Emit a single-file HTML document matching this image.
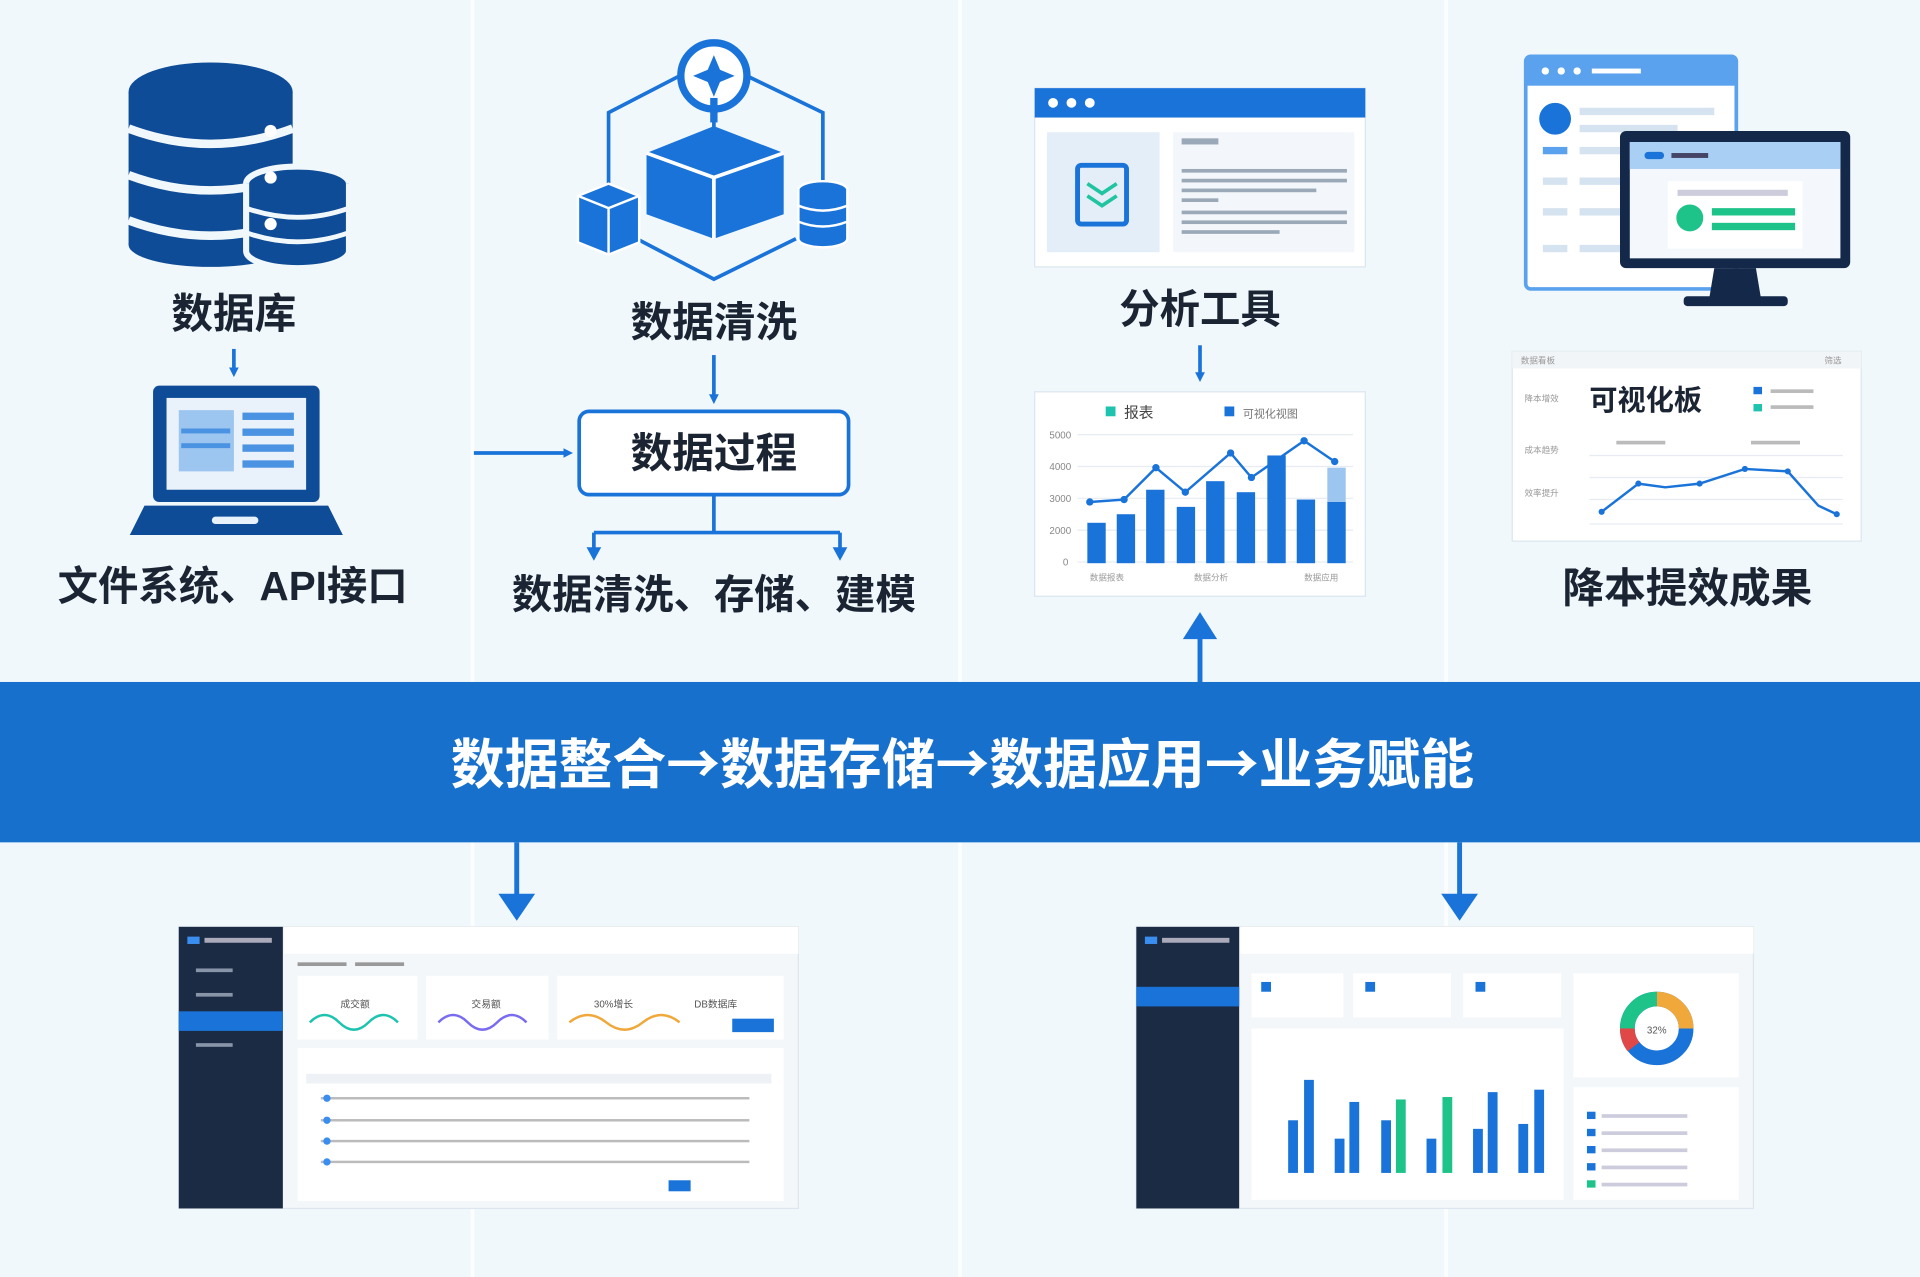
<!DOCTYPE html>
<html><head><meta charset="utf-8"><style>
html,body{margin:0;padding:0;background:#f1f8fb;}
svg{display:block}
text{font-family:"Liberation Sans","Noto Sans CJK SC",sans-serif;}
.band{font-family:"Noto Sans CJK SC",sans-serif;}
</style></head><body>
<svg width="1920" height="1277" viewBox="0 0 1568 1043" preserveAspectRatio="none" xmlns="http://www.w3.org/2000/svg">
<defs>
<marker id="ah" markerWidth="8" markerHeight="8" refX="4" refY="4" orient="auto" markerUnits="userSpaceOnUse" viewBox="0 0 8 8"><path d="M0,0 L8,4 L0,8z" fill="#1a73d9"/></marker>
</defs>
<rect width="1568" height="1043" fill="#f1f8fb"/>
<g stroke="#ffffff" stroke-width="3" opacity="0.8"><line x1="386" y1="0" x2="386" y2="1043"/><line x1="784" y1="0" x2="784" y2="1043"/><line x1="1181" y1="0" x2="1181" y2="1043"/></g>

<!-- Database -->
<g fill="#0f4c97">
<ellipse cx="172" cy="75" rx="67" ry="24"/>
<rect x="105" y="75" width="134" height="125"/>
<ellipse cx="172" cy="200" rx="67" ry="18"/>
</g>
<g stroke="#f1f8fb" stroke-width="7" fill="none"><path d="M105,105 Q172,130 239,105"/><path d="M105,143 Q172,168 239,143"/><path d="M105,180 Q172,205 239,180"/></g>
<g fill="#0f4c97" stroke="#f1f8fb" stroke-width="5"><ellipse cx="243" cy="150" rx="42" ry="14"/><path d="M201,150 v55 a42,14 0 0 0 84,0 v-55"/></g>
<g stroke="#f1f8fb" stroke-width="4" fill="none"><path d="M201,170 Q243,185 285,170"/><path d="M201,190 Q243,205 285,190"/></g>
<circle cx="221" cy="107" r="5" fill="#fff"/><circle cx="221" cy="145" r="5" fill="#fff"/><circle cx="221" cy="183" r="5" fill="#fff"/>
<text x="191" y="268" font-size="34" font-weight="bold" fill="#1b2433" text-anchor="middle">数据库</text>
<line x1="191" y1="285" x2="191" y2="304" stroke="#1a73d9" stroke-width="3" marker-end="url(#ah)"/>
<!-- Laptop -->
<rect x="125" y="315" width="136" height="95" rx="5" fill="#0f4c97"/>
<rect x="136" y="325" width="114" height="75" fill="#e9f2fb"/>
<rect x="146" y="335" width="45" height="50" fill="#9cc5ef"/>
<g fill="#4a92e2"><rect x="198" y="337" width="42" height="6"/><rect x="198" y="350" width="42" height="6"/><rect x="198" y="363" width="42" height="6"/><rect x="198" y="376" width="42" height="6"/><rect x="148" y="350" width="40" height="4"/><rect x="148" y="362" width="40" height="4"/></g>
<path d="M118,413 L268,413 L280,437 L106,437z" fill="#0f4c97"/>
<rect x="173" y="422" width="38" height="6" rx="3" fill="#e9f2fb"/>
<text x="190" y="490" font-size="33" font-weight="bold" fill="#1b2433" text-anchor="middle">文件系统、API接口</text>

<!-- Network icon -->
<g stroke="#1a73d9" stroke-width="3" fill="none"><path d="M555,62 L497,92 L497,160 M610,62 L672,92 L672,155 M520,195 L583,228 L650,195"/><line x1="583" y1="95" x2="583" y2="115"/></g>
<circle cx="583" cy="62" r="27" fill="#fff" stroke="#1a73d9" stroke-width="6"/>
<path d="M583,45 L588,57 L600,62 L588,67 L583,79 L578,67 L566,62 L578,57z" fill="#1a73d9"/>
<path d="M583,80 L583,100" stroke="#1a73d9" stroke-width="6"/>
<path d="M528,125 L583,103 L640,125 L640,175 L583,195 L528,175z" fill="#1a73d9"/>
<path d="M528,125 L583,145 L640,125 M583,145 L583,195" stroke="#fff" stroke-width="3" fill="none"/>
<path d="M472,160 L497,150 L522,160 L522,198 L497,208 L472,198z" fill="#1a73d9" stroke="#fff" stroke-width="2"/>
<path d="M472,160 L497,170 L522,160 M497,170 V208" stroke="#fff" stroke-width="2" fill="none"/>
<g fill="#1a73d9" stroke="#fff" stroke-width="2"><ellipse cx="672" cy="155" rx="20" ry="7"/><path d="M652,155 v40 a20,7 0 0 0 40,0 v-40"/></g>
<g stroke="#fff" stroke-width="2" fill="none"><path d="M652,168 Q672,176 692,168"/><path d="M652,181 Q672,189 692,181"/></g>
<text x="583" y="275" font-size="34" font-weight="bold" fill="#1b2433" text-anchor="middle">数据清洗</text>
<line x1="583" y1="290" x2="583" y2="326" stroke="#1a73d9" stroke-width="3" marker-end="url(#ah)"/>
<rect x="473" y="336" width="220" height="68" rx="8" fill="#fff" stroke="#1a73d9" stroke-width="3"/>
<text x="583" y="382" font-size="34" font-weight="bold" fill="#1b2433" text-anchor="middle">数据过程</text>
<line x1="387" y1="370" x2="464" y2="370" stroke="#1a73d9" stroke-width="3" marker-end="url(#ah)"/>
<path d="M583,404 V435 M485,435 H686 M485,435 V452 M686,435 V452" stroke="#1a73d9" stroke-width="3" fill="none"/>
<path d="M479,447 L485,458 L491,447z M680,447 L686,458 L692,447z" fill="#1a73d9"/>
<text x="583" y="497" font-size="33" font-weight="bold" fill="#1b2433" text-anchor="middle">数据清洗、存储、建模</text>

<!-- Analysis window -->
<rect x="845" y="72" width="270" height="146" fill="#fff" stroke="#dbe6f0"/>
<rect x="845" y="72" width="270" height="24" fill="#1a73d9"/>
<g fill="#fff"><circle cx="860" cy="84" r="4"/><circle cx="875" cy="84" r="4"/><circle cx="890" cy="84" r="4"/></g>
<rect x="855" y="108" width="92" height="98" fill="#e4eef8"/>
<rect x="880" y="135" width="40" height="48" rx="3" fill="none" stroke="#1a73d9" stroke-width="4"/>
<path d="M888,150 L900,158 L912,150 M888,160 L900,168 L912,160" stroke="#20c4a0" stroke-width="3" fill="none"/>
<rect x="958" y="108" width="148" height="98" fill="#f3f7fb"/>
<g fill="#9aa8b8"><rect x="965" y="113" width="30" height="5"/><rect x="965" y="138" width="135" height="3"/><rect x="965" y="146" width="135" height="3"/><rect x="965" y="154" width="110" height="3"/><rect x="965" y="162" width="30" height="3"/><rect x="965" y="172" width="135" height="3"/><rect x="965" y="180" width="135" height="3"/><rect x="965" y="188" width="80" height="3"/></g>
<text x="980" y="264" font-size="33" font-weight="bold" fill="#1b2433" text-anchor="middle">分析工具</text>
<line x1="980" y1="282" x2="980" y2="308" stroke="#1a73d9" stroke-width="3" marker-end="url(#ah)"/>
<!-- Chart panel -->
<rect x="845" y="320" width="270" height="167" fill="#fff" stroke="#dbe6f0"/>
<rect x="903" y="332" width="8" height="8" fill="#1ec3b0"/><text x="918" y="341" font-size="12" fill="#444">报表</text>
<rect x="1000" y="332" width="8" height="8" fill="#1a73d9"/><text x="1015" y="341" font-size="9" fill="#777">可视化视图</text>
<g stroke="#e6ecf2"><line x1="880" y1="355" x2="1105" y2="355"/><line x1="880" y1="381" x2="1105" y2="381"/><line x1="880" y1="407" x2="1105" y2="407"/><line x1="880" y1="433" x2="1105" y2="433"/><line x1="880" y1="459" x2="1105" y2="459"/></g>
<g font-size="8" fill="#888"><text x="857" y="358">5000</text><text x="857" y="384">4000</text><text x="857" y="410">3000</text><text x="857" y="436">2000</text><text x="868" y="462">0</text></g>
<g fill="#1a73d9"><rect x="888" y="427" width="15" height="33"/><rect x="912" y="420" width="15" height="40"/><rect x="936" y="400" width="15" height="60"/><rect x="961" y="414" width="15" height="46"/><rect x="985" y="393" width="15" height="67"/><rect x="1010" y="402" width="15" height="58"/><rect x="1035" y="372" width="15" height="88"/><rect x="1059" y="408" width="15" height="52"/><rect x="1084" y="410" width="15" height="50"/></g>
<rect x="1084" y="382" width="15" height="28" fill="#9cc5ef"/>
<polyline points="890,410 918,408 944,382 968,402 1005,370 1022,390 1065,360 1090,377" fill="none" stroke="#1a73d9" stroke-width="2"/>
<g fill="#1a73d9"><circle cx="890" cy="410" r="3"/><circle cx="918" cy="408" r="3"/><circle cx="944" cy="382" r="3"/><circle cx="968" cy="402" r="3"/><circle cx="1005" cy="370" r="3"/><circle cx="1022" cy="390" r="3"/><circle cx="1065" cy="360" r="3"/><circle cx="1090" cy="377" r="3"/></g>
<g font-size="7" fill="#999"><text x="890" y="474">数据报表</text><text x="975" y="474">数据分析</text><text x="1065" y="474">数据应用</text></g>
<line x1="980" y1="557" x2="980" y2="515" stroke="#1a73d9" stroke-width="4"/>
<path d="M966,522 L980,500 L994,522z" fill="#1a73d9"/>

<!-- Top right -->
<rect x="1246" y="46" width="172" height="190" rx="4" fill="#fff" stroke="#5ba2ee" stroke-width="3"/>
<rect x="1246" y="46" width="172" height="24" fill="#5ba2ee"/>
<g fill="#fff"><circle cx="1262" cy="58" r="3"/><circle cx="1275" cy="58" r="3"/><circle cx="1288" cy="58" r="3"/><rect x="1300" y="56" width="40" height="4"/></g>
<circle cx="1270" cy="97" r="13" fill="#1a73d9"/>
<g fill="#d5e2ef"><rect x="1290" y="88" width="110" height="6"/><rect x="1290" y="102" width="80" height="6"/><rect x="1260" y="120" width="20" height="6" fill="#5ba2ee"/><rect x="1290" y="120" width="40" height="6"/><rect x="1260" y="145" width="20" height="6"/><rect x="1290" y="145" width="40" height="6"/><rect x="1260" y="170" width="20" height="6"/><rect x="1290" y="170" width="40" height="6"/><rect x="1260" y="200" width="20" height="6"/><rect x="1290" y="200" width="40" height="6"/></g>
<rect x="1323" y="107" width="188" height="112" rx="5" fill="#14284a"/>
<rect x="1331" y="116" width="172" height="95" fill="#f4f8fc"/>
<rect x="1331" y="116" width="172" height="22" fill="#a9cff5"/>
<rect x="1343" y="124" width="16" height="6" rx="3" fill="#1a73d9"/>
<rect x="1365" y="125" width="30" height="4" fill="#446"/>
<rect x="1362" y="148" width="110" height="55" fill="#fff"/>
<rect x="1370" y="155" width="90" height="5" fill="#ccd"/>
<circle cx="1380" cy="178" r="11" fill="#1ec38a"/>
<rect x="1398" y="170" width="68" height="6" fill="#1ec38a"/><rect x="1398" y="182" width="68" height="6" fill="#1ec38a"/>
<path d="M1400,219 L1434,219 L1438,243 L1396,243z" fill="#14284a"/>
<rect x="1375" y="242" width="85" height="8" rx="3" fill="#14284a"/>
<!-- KPI board -->
<rect x="1235" y="287" width="285" height="155" fill="#fff" stroke="#dbe6f0"/>
<rect x="1235" y="287" width="285" height="14" fill="#f2f5f8"/>
<g fill="#999" font-size="7"><text x="1242" y="297">数据看板</text><text x="1490" y="297">筛选</text><text x="1245" y="328">降本增效</text><text x="1245" y="370">成本趋势</text><text x="1245" y="405">效率提升</text></g>
<text x="1298" y="335" font-size="23" font-weight="bold" fill="#1b2433">可视化板</text>
<rect x="1432" y="316" width="7" height="6" fill="#1a73d9"/><rect x="1432" y="330" width="7" height="6" fill="#1ec3b0"/>
<g fill="#bbb"><rect x="1446" y="318" width="35" height="3"/><rect x="1446" y="331" width="35" height="3"/><rect x="1320" y="360" width="40" height="3"/><rect x="1430" y="360" width="40" height="3"/></g>
<g stroke="#e6ecf2"><line x1="1298" y1="372" x2="1505" y2="372"/><line x1="1298" y1="390" x2="1505" y2="390"/><line x1="1298" y1="408" x2="1505" y2="408"/><line x1="1298" y1="428" x2="1505" y2="428"/></g>
<polyline points="1308,418 1338,395 1360,398 1388,395 1425,383 1460,385 1485,413 1500,420" fill="none" stroke="#1a73d9" stroke-width="2"/>
<g fill="#1a73d9"><circle cx="1308" cy="418" r="2.5"/><circle cx="1338" cy="395" r="2.5"/><circle cx="1388" cy="395" r="2.5"/><circle cx="1425" cy="383" r="2.5"/><circle cx="1460" cy="385" r="2.5"/><circle cx="1500" cy="420" r="2.5"/></g>
<text x="1378" y="492" font-size="34" font-weight="bold" fill="#1b2433" text-anchor="middle">降本提效成果</text>

<!-- Band -->
<rect x="0" y="557" width="1568" height="131" fill="#1670cc"/>
<text class="band" x="786" y="640" font-size="44" font-weight="bold" fill="#fff" text-anchor="middle">数据整合→数据存储→数据应用→业务赋能</text>

<!-- Down arrows -->
<line x1="422" y1="688" x2="422" y2="735" stroke="#1a73d9" stroke-width="4"/>
<path d="M407,730 L422,752 L437,730z" fill="#1a73d9"/>
<line x1="1192" y1="688" x2="1192" y2="735" stroke="#1a73d9" stroke-width="4"/>
<path d="M1177,730 L1192,752 L1207,730z" fill="#1a73d9"/>

<!-- Bottom dashboard 1 -->
<rect x="146" y="757" width="506" height="230" fill="#f4f7fa" stroke="#dde5ee"/>
<rect x="146" y="757" width="85" height="230" fill="#1c2b44"/>
<rect x="232" y="757" width="420" height="22" fill="#fff"/>
<rect x="153" y="765" width="10" height="6" fill="#3a8ef0"/><rect x="167" y="766" width="55" height="4" fill="#aab"/>
<g fill="#8894a8"><rect x="160" y="791" width="30" height="3"/><rect x="160" y="811" width="30" height="3"/><rect x="160" y="852" width="30" height="3"/></g>
<rect x="146" y="826" width="85" height="16" fill="#1a73d9"/>
<rect x="243" y="786" width="40" height="3" fill="#999"/><rect x="290" y="786" width="40" height="3" fill="#999"/>
<g fill="#fff"><rect x="243" y="797" width="98" height="52"/><rect x="348" y="797" width="100" height="52"/><rect x="455" y="797" width="185" height="52"/><rect x="243" y="856" width="397" height="125"/></g>
<path d="M253,835 q12,-12 24,0 t24,0 t24,0" stroke="#1ec3b0" stroke-width="2" fill="none"/>
<path d="M358,835 q12,-12 24,0 t24,0 t24,0" stroke="#7a6cf0" stroke-width="2" fill="none"/>
<path d="M465,835 q15,-12 30,0 t30,0 t30,0" stroke="#f0a83a" stroke-width="2" fill="none"/>
<rect x="598" y="832" width="34" height="11" fill="#1a73d9"/>
<g font-size="8" fill="#555"><text x="278" y="823">成交额</text><text x="385" y="823">交易额</text><text x="485" y="823">30%增长</text><text x="567" y="823">DB数据库</text></g>
<g fill="#bbb"><rect x="250" y="877" width="380" height="8" fill="#eef2f6"/>
<rect x="262" y="896" width="350" height="2"/><rect x="262" y="914" width="350" height="2"/><rect x="262" y="931" width="350" height="2"/><rect x="262" y="948" width="350" height="2"/></g>
<g fill="#3a8ef0"><circle cx="267" cy="897" r="3"/><circle cx="267" cy="915" r="3"/><circle cx="267" cy="932" r="3"/><circle cx="267" cy="949" r="3"/></g>
<rect x="546" y="964" width="18" height="9" fill="#1a73d9"/>
<!-- Bottom dashboard 2 -->
<rect x="928" y="757" width="504" height="230" fill="#f4f7fa" stroke="#dde5ee"/>
<rect x="928" y="757" width="84" height="230" fill="#1c2b44"/>
<rect x="1013" y="757" width="419" height="22" fill="#fff"/>
<rect x="935" y="765" width="10" height="6" fill="#3a8ef0"/><rect x="949" y="766" width="55" height="4" fill="#aab"/>
<rect x="928" y="806" width="84" height="16" fill="#1a73d9"/>
<g fill="#fff"><rect x="1022" y="795" width="75" height="36"/><rect x="1105" y="795" width="80" height="36"/><rect x="1195" y="795" width="80" height="36"/><rect x="1285" y="795" width="135" height="85"/><rect x="1022" y="840" width="255" height="140"/><rect x="1285" y="888" width="135" height="92"/></g>
<g fill="#1a73d9"><rect x="1030" y="802" width="8" height="8"/><rect x="1115" y="802" width="8" height="8"/><rect x="1205" y="802" width="8" height="8"/></g>
<g fill="#1a73d9"><rect x="1052" y="915" width="8" height="43"/><rect x="1065" y="882" width="8" height="76"/><rect x="1090" y="930" width="8" height="28"/><rect x="1102" y="900" width="8" height="58"/><rect x="1128" y="915" width="8" height="43"/><rect x="1165" y="930" width="8" height="28"/><rect x="1203" y="922" width="8" height="36"/><rect x="1215" y="892" width="8" height="66"/><rect x="1240" y="918" width="8" height="40"/><rect x="1253" y="890" width="8" height="68"/></g>
<g fill="#1ec38a"><rect x="1140" y="898" width="8" height="60"/><rect x="1178" y="896" width="8" height="62"/></g>
<circle cx="1353" cy="840" r="24" fill="none" stroke="#1a73d9" stroke-width="12"/>
<path d="M1353,816 A24,24 0 0 1 1377,840" fill="none" stroke="#f0a83a" stroke-width="12"/>
<path d="M1329,840 A24,24 0 0 1 1353,816" fill="none" stroke="#1ec38a" stroke-width="12"/>
<path d="M1334,855 A24,24 0 0 1 1329,840" fill="none" stroke="#e04848" stroke-width="12"/>
<text x="1353" y="844" font-size="8" fill="#555" text-anchor="middle">32%</text>
<g fill="#1a73d9"><rect x="1296" y="908" width="7" height="6"/><rect x="1296" y="922" width="7" height="6"/><rect x="1296" y="936" width="7" height="6"/><rect x="1296" y="950" width="7" height="6"/><rect x="1296" y="964" width="7" height="6" fill="#1ec38a"/></g>
<g fill="#ccd"><rect x="1308" y="910" width="70" height="3"/><rect x="1308" y="924" width="70" height="3"/><rect x="1308" y="938" width="70" height="3"/><rect x="1308" y="952" width="70" height="3"/><rect x="1308" y="966" width="70" height="3"/></g>
</svg>
</body></html>
